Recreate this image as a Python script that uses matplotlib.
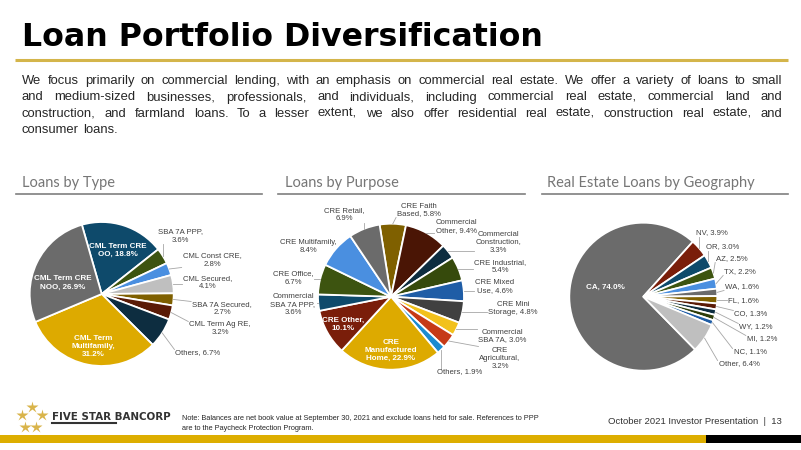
import numpy as np
import matplotlib.pyplot as plt

plt.rcParams['font.family'] = ['Liberation Sans', 'DejaVu Sans']

W, H = 801, 450

# --- data ---------------------------------------------------------------
type_names = ['CML Term CRE\nOO', 'SBA 7A PPP', 'CML Const CRE', 'CML Secured',
              'SBA 7A Secured', 'CML Term Ag RE', 'Others', 'CML Term\nMultifamily',
              'CML Term CRE\nNOO']
type_values = [18.8, 3.6, 2.8, 4.1, 2.7, 3.2, 6.7, 31.2, 26.9]

purpose_names = ['CRE Faith\nBased', 'Commercial\nOther', 'Commercial\nConstruction',
                 'CRE Industrial', 'CRE Mixed\nUse', 'CRE Mini\nStorage',
                 'Commercial\nSBA 7A', 'CRE\nAgricultural', 'Others',
                 'CRE\nManufactured\nHome', 'CRE Other', 'Commercial\nSBA 7A PPP',
                 'CRE Office', 'CRE Multifamily', 'CRE Retail']
purpose_values = [5.8, 9.4, 3.3, 5.4, 4.6, 4.8, 3.0, 3.2, 1.9, 22.9, 10.1, 3.6, 6.7, 8.4, 6.9]

geo_names = ['CA', 'NV', 'OR', 'AZ', 'TX', 'WA', 'FL', 'CO', 'WY', 'MI', 'NC', 'Other']
geo_values = [74.0, 3.9, 3.0, 2.5, 2.2, 1.6, 1.6, 1.3, 1.2, 1.2, 1.1, 6.4]

# --- styling / layout ------------------------------------------------------
type_colors = ['#0E4A6B', '#3D5410', '#4A8FE0', '#BFBFBF', '#7F6000', '#5A1B06',
               '#0D2D40', '#DDAA00', '#6B6B6B']
purpose_colors = ['#7F6000', '#4A1505', '#0D2D40', '#364A0C', '#1F5DA6', '#404040',
                  '#F2C11C', '#C63A17', '#1B8BD0', '#DDAA00', '#7A1E0A', '#0E4A6B',
                  '#3D5410', '#4A8FE0', '#6B6B6B']
geo_colors = ['#6B6B6B', '#7A1E0A', '#0E4A6B', '#3D5410', '#4A8FE0', '#6B6B6B',
              '#7F6000', '#5A1B06', '#0D2D40', '#2E3D0A', '#1F5DA6', '#BFBFBF']

# percentage on a new line?
type_brk = [0, 1, 1, 1, 1, 1, 0, 1, 0]
purpose_brk = [0, 0, 1, 1, 0, 0, 0, 1, 0, 0, 1, 1, 1, 1, 1]
geo_brk = [0] * 12

type_inside = [1, 0, 0, 0, 0, 0, 0, 1, 1]
purpose_inside = [0, 0, 0, 0, 0, 0, 0, 0, 0, 1, 1, 0, 0, 0, 0]
geo_inside = [1] + [0] * 11

type_pos = [(118, 250), (180, 236), (212, 260), (208, 283), (222, 309), (220, 329),
            (198, 353), (93, 347), (63, 283)]
purpose_pos = [(419, 210), (456, 227), (498, 242), (500, 267), (495, 287), (513, 308),
               (502, 336), (500, 358), (460, 372), (391, 350), (343, 324), (293, 305),
               (293, 278), (308, 247), (344, 215)]
geo_pos = [(605, 287), (712, 233), (723, 247), (732, 259), (740, 272), (742, 287),
           (743, 301), (751, 314), (756, 327), (762, 339), (750, 352), (739, 364)]

fig = plt.figure(figsize=(W / 100, H / 100), dpi=100)
ov = fig.add_axes([0, 0, 1, 1])
ov.set_xlim(0, W)
ov.set_ylim(H, 0)
ov.axis('off')
ov.set_zorder(10)  # labels and leader lines above the pies
renderer = fig.canvas.get_renderer()

# title
ov.text(22, 37, 'Loan Portfolio Diversification', fontsize=22.8, fontweight='bold',
        family='DejaVu Sans', color='black', va='center')
ov.plot([15, 788], [60, 60], color='#D4B54A', lw=2.2, solid_capstyle='butt')

# paragraph, justified
para = ['We focus primarily on commercial lending, with an emphasis on commercial real estate. We offer a variety of loans to small',
        'and medium-sized businesses, professionals, and individuals, including commercial real estate, commercial land and',
        'construction, and farmland loans. To a lesser extent, we also offer residential real estate, construction real estate, and',
        'consumer loans.']
para_y = [81, 97.5, 114, 130]
pfs = 9.4


def text_w(s):
    t = ov.text(0, 0, s, fontsize=pfs)
    w = t.get_window_extent(renderer).width
    t.remove()
    return w


for i, (line, y) in enumerate(zip(para, para_y)):
    words = line.split()
    n = len(words)
    extra = (782 - 22 - text_w(line)) / (n - 1) if i < len(para) - 1 else 0
    for j, w in enumerate(words):
        start = text_w(' '.join(words[:j + 1])) - text_w(w)
        ov.text(22 + start + j * extra, y, w, fontsize=pfs, color='#262626', va='center')

# section headers
for txt, x, x0, x1 in [('Loans by Type', 22, 16, 262),
                       ('Loans by Purpose', 285, 278, 525),
                       ('Real Estate Loans by Geography', 547, 542, 788)]:
    ov.text(x, 183, txt, fontsize=10.5, family='Lato', color='#767676', va='center')
    ov.plot([x0, x1], [193.5, 193.5], color='#7F7F7F', lw=1.2)


def draw_pie(values, names, colors, brk, inside, pos, cx, cy, R, start):
    ax = fig.add_axes([(cx - R) / W, 1 - (cy + R) / H, 2 * R / W, 2 * R / H])
    wedges, _ = ax.pie(values, colors=colors, startangle=start, counterclock=False,
                       radius=1, wedgeprops=dict(edgecolor='white', linewidth=1.3))
    ax.set_xlim(-1, 1)
    ax.set_ylim(-1, 1)
    ax.axis('off')
    inv = ov.transData.inverted()
    for wdg, n, v, b, ins, (px, py) in zip(wedges, names, values, brk, inside, pos):
        lab = n + ',' + ('\n' if b else ' ') + f'{v:.1f}%'
        if ins:
            ov.text(px, py, lab, fontsize=5.8, fontweight='bold', color='white',
                    ha='center', va='center', linespacing=1.2)
            continue
        t = ov.text(px, py, lab, fontsize=5.6, color='#404040', ha='center',
                    va='center', linespacing=1.2)
        ang = np.deg2rad((wdg.theta1 + wdg.theta2) / 2)
        ex, ey = ax.transData.transform((np.cos(ang), np.sin(ang)))
        bb = t.get_window_extent(renderer)
        qx = min(max(ex, bb.x0 - 1), bb.x1 + 1)
        qy = min(max(ey, bb.y0), bb.y1)
        (ax0, ay0), (ax1, ay1) = inv.transform([(ex, ey), (qx, qy)])
        ov.plot([ax0, ax1], [ay0, ay1], color='#A6A6A6', lw=0.6)


draw_pie(type_values, type_names, type_colors, type_brk, type_inside, type_pos,
         101.7, 294, 72, 106)
draw_pie(purpose_values, purpose_names, purpose_colors, purpose_brk, purpose_inside,
         purpose_pos, 391, 296.7, 73, 99)
draw_pie(geo_values, geo_names, geo_colors, geo_brk, geo_inside, geo_pos,
         643.3, 296.7, 74, 314.4)

# footer
star_x = [31.7, 21.7, 41.7, 25, 36]
star_y = [407, 415, 415, 427, 427]
ov.plot(star_x, star_y, ls='none', marker='*', ms=9, color='#D9B44A', mec='none')
ov.text(52, 416.5, 'FIVE STAR BANCORP', fontsize=7.4, fontweight='bold',
        family='DejaVu Sans', color='#333333', va='center')
ov.plot([52, 116], [423, 423], color='#333333', lw=1.5)
ov.text(182, 419, 'Note: Balances are net book value at September 30, 2021 and exclude loans held for sale. References to PPP',
        fontsize=5.3, color='#262626', va='center')
ov.text(182, 428.3, 'are to the Paycheck Protection Program.',
        fontsize=5.3, color='#262626', va='center')
ov.text(782, 421.5, 'October 2021 Investor Presentation  |  13', fontsize=6.8,
        color='#333333', va='center', ha='right')
ov.fill_between([0, 706], 435, 443, color='#DDAE00', lw=0)
ov.fill_between([706, W], 435, 443, color='black', lw=0)

fig.savefig('out.png', dpi=100)
